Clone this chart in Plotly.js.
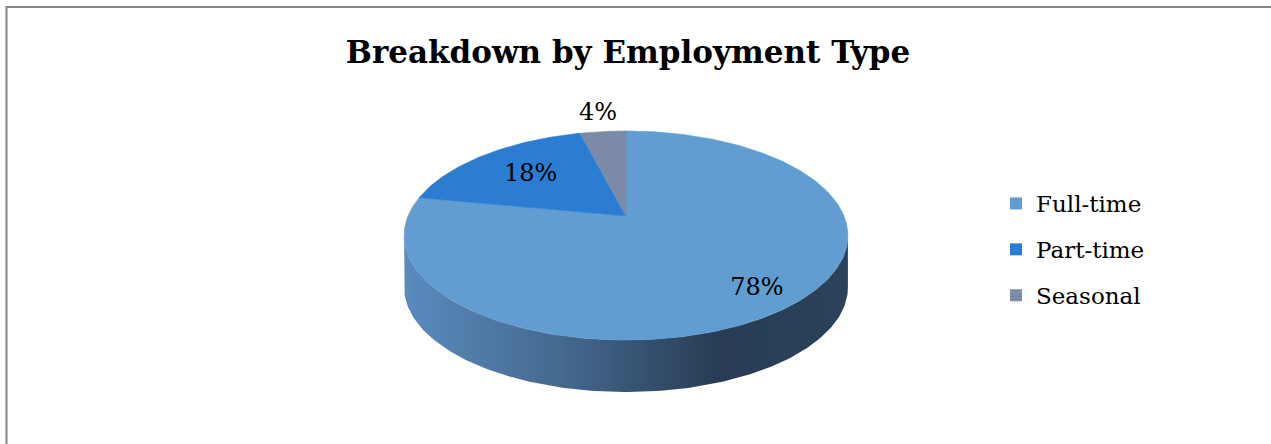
<!DOCTYPE html>
<html>
<head>
<meta charset="utf-8">
<script src="https://cdn.plot.ly/plotly-3.0.1.min.js"></script>
<style>html,body{margin:0;padding:0;background:#fff;}#chart{width:1271px;height:444px;}</style>
</head>
<body>
<div id="chart"></div>
<script>
// ---- data ----
const categories = ['Full-time', 'Part-time', 'Seasonal'];
const values = [78, 18, 4];
const percentLabels = ['78%', '18%', '4%'];
const chartTitle = 'Breakdown by Employment Type';

// ---- style ----
const topColors = ['#629dd2', '#2b7dd2', '#7b8aa6'];
const sideScales = [
  [[0, '#5a8bbf'], [0.35, '#45698f'], [0.7, '#283d55'], [1, '#2b425a']],
  [[0, '#2464a8'], [1, '#15385e']],
  [[0, '#62708a'], [1, '#3b4456']]
];
const labelRadius = [0.83, 0.65, 1.26];
const serif = '"DejaVu Serif", "Liberation Serif", serif';
// perspective view of a tilted disc: apex (centre) on screen, horizontal scale A,
// vertical scale B, perspective factor k, thickness depth
const geo = {cx: 626, cy: 216, A: 218, B: 100.9, k: 0.1867, depth: 52};

function pt(thetaDeg, f, dy) {
  const t = thetaDeg * Math.PI / 180;
  const s = Math.sin(t) * f, c = Math.cos(t) * f;
  const d = 1 + geo.k * c;
  return [geo.cx + geo.A * s / d, geo.cy - geo.B * c / d + (dy || 0)];
}
function arc(a0, a1, dy) {
  const n = Math.max(2, Math.ceil(Math.abs(a1 - a0) / 1.0));
  const out = [];
  for (let i = 0; i <= n; i++) out.push(pt(a0 + (a1 - a0) * i / n, 1, dy));
  return out;
}

// silhouette of the visible side (front part of rim)
const rimR = Math.acos(-geo.k) * 180 / Math.PI;
const rimL = 360 - rimR;

const total = values.reduce((a, b) => a + b, 0);
const traces = [];
const sideTraces = [];
const topTraces = [];
const labelX = [], labelY = [];
let start = 0;
values.forEach((v, i) => {
  const a0 = start, a1 = start + 360 * v / total;
  start = a1;
  const s0 = Math.max(a0, rimR), s1 = Math.min(a1, rimL);
  if (s1 > s0) {
    const top = arc(s0, s1, 0);
    const bot = arc(s1, s0, geo.depth);
    const poly = top.concat(bot);
    poly.push(top[0]);
    sideTraces.push({
      type: 'scatter', mode: 'lines', fill: 'toself',
      x: poly.map(p => p[0]), y: poly.map(p => p[1]),
      line: {width: 0, color: topColors[i]},
      fillgradient: {type: 'horizontal', colorscale: sideScales[i]},
      hoverinfo: 'skip', showlegend: false
    });
  }
  const a = arc(a0, a1, 0);
  const poly = [[geo.cx, geo.cy]].concat(a);
  poly.push([geo.cx, geo.cy]);
  topTraces.push({
    type: 'scatter', mode: 'lines', fill: 'toself',
    x: poly.map(p => p[0]), y: poly.map(p => p[1]),
    line: {width: 0.6, color: topColors[i]}, fillcolor: topColors[i],
    hoverinfo: 'skip', showlegend: false
  });
  const lp = pt((a0 + a1) / 2, labelRadius[i], 0);
  labelX.push(lp[0]);
  labelY.push(lp[1]);
});

traces.push(...sideTraces, ...topTraces);
traces.push({
  type: 'scatter', mode: 'text', x: labelX, y: labelY, text: percentLabels,
  textposition: 'middle center',
  textfont: {family: serif, size: 24, color: '#000'},
  hoverinfo: 'skip', showlegend: false
});
categories.forEach((c, i) => {
  traces.push({
    type: 'scatter', mode: 'markers', x: [null], y: [null], name: c,
    legendgroup: c,
    marker: {symbol: 'square', size: 12, color: topColors[i]},
    hoverinfo: 'skip', showlegend: true
  });
});

const layout = {
  width: 1271, height: 444,
  margin: {l: 0, r: 0, t: 0, b: 0},
  paper_bgcolor: '#fff', plot_bgcolor: '#fff',
  title: {
    text: '<b>' + chartTitle + '</b>',
    font: {family: serif, size: 31, color: '#000'},
    x: 628 / 1271, xanchor: 'center', xref: 'container',
    y: 1 - 52 / 444, yanchor: 'middle', yref: 'container'
  },
  xaxis: {range: [0, 1271], visible: false, fixedrange: true},
  yaxis: {range: [444, 0], visible: false, fixedrange: true},
  showlegend: true,
  legend: {
    x: 996 / 1271, xanchor: 'left', y: 1 - 182 / 444, yanchor: 'top',
    font: {family: serif, size: 23, color: '#000'},
    tracegroupgap: 13, itemwidth: 30, bgcolor: 'rgba(0,0,0,0)'
  },
  shapes: [{
    type: 'rect', xref: 'paper', yref: 'paper',
    x0: 6.5 / 1271, x1: 1.02, y0: -0.02, y1: 1 - 7 / 444,
    line: {color: '#868686', width: 2}, fillcolor: 'rgba(0,0,0,0)', layer: 'below'
  }]
};

Plotly.newPlot('chart', traces, layout, {staticPlot: true, displayModeBar: false});
</script>
</body>
</html>
